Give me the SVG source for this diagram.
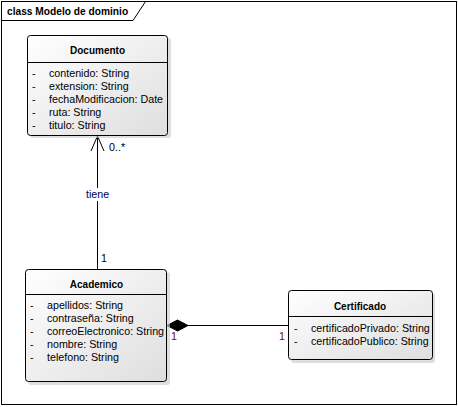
<svg xmlns="http://www.w3.org/2000/svg" width="458" height="407" viewBox="0 0 458 407">
<defs>
<linearGradient id="g" x1="0" y1="0" x2="1" y2="1">
<stop offset="0" stop-color="#ffffff"/>
<stop offset="1" stop-color="#dedede"/>
</linearGradient>
</defs>
<style>
text{font-family:"Liberation Sans",Arial,sans-serif;font-size:10.7px;fill:#000}
.t{font-weight:bold;font-size:10px;text-anchor:middle}
.box{fill:url(#g);stroke:#000;stroke-width:1}
.sh{fill:#c8c8c8;opacity:0.6}
.ln{stroke:#000;stroke-width:1;fill:none}
.red{fill:#800000}
</style>
<rect x="0" y="0" width="458" height="407" fill="#fff"/>
<g id="frame">
<rect x="1.5" y="1.5" width="455" height="403" fill="none" stroke="#000"/>
<path d="M1.5 20.5 H133 L145.5 1.5" class="ln"/>
<text x="7" y="14.5" style="font-weight:bold;font-size:10.2px">class Modelo de dominio</text>
</g>
<g id="connectors">
<line x1="97.5" y1="136" x2="97.5" y2="269" class="ln"/>
<path d="M91 151 L97.5 136 L104 151" class="ln"/>
<rect x="83" y="188" width="29" height="13" fill="#fff"/>
<text x="97.5" y="198" text-anchor="middle" style="fill:#000050">tiene</text>
<text x="109" y="151">0..*</text>
<text x="101" y="262">1</text>
<line x1="188" y1="325.5" x2="288" y2="325.5" class="ln"/>
<path d="M167 325.5 L177.5 320 L188 325.5 L177.5 331 Z" fill="#000" stroke="#000"/>
<text x="171" y="340" class="red">1</text>
<text x="279" y="340" class="red">1</text>
</g>
<g id="Documento">
<rect x="30" y="38" width="141" height="100" rx="3" class="sh"/>
<rect x="27.5" y="35.5" width="140" height="100" rx="3" class="box"/>
<line x1="27.5" y1="62.5" x2="167.5" y2="62.5" class="ln"/>
<text x="97.5" y="54" class="t">Documento</text>
<text x="32" y="76.5">-</text><text x="49" y="76.5">contenido: String</text>
<text x="32" y="89.5">-</text><text x="49" y="89.5">extension: String</text>
<text x="32" y="102.5">-</text><text x="49" y="102.5">fechaModificacion: Date</text>
<text x="32" y="115.5">-</text><text x="49" y="115.5">ruta: String</text>
<text x="32" y="128.5">-</text><text x="49" y="128.5">titulo: String</text>
</g>
<g id="Academico">
<rect x="28" y="272" width="142" height="113" rx="3" class="sh"/>
<rect x="25.5" y="269.5" width="141" height="112" rx="3" class="box"/>
<line x1="25.5" y1="294.5" x2="166.5" y2="294.5" class="ln"/>
<text x="96.5" y="288" class="t">Academico</text>
<text x="30" y="309">-</text><text x="47" y="309">apellidos: String</text>
<text x="30" y="322">-</text><text x="47" y="322">contraseña: String</text>
<text x="30" y="335">-</text><text x="47" y="335">correoElectronico: String</text>
<text x="30" y="348">-</text><text x="47" y="348">nombre: String</text>
<text x="30" y="361">-</text><text x="47" y="361">telefono: String</text>
</g>
<g id="Certificado">
<rect x="291" y="293" width="144" height="70" rx="3" class="sh"/>
<rect x="288.5" y="290.5" width="144" height="69" rx="3" class="box"/>
<line x1="288.5" y1="316.5" x2="432.5" y2="316.5" class="ln"/>
<text x="360" y="310" class="t">Certificado</text>
<text x="294" y="332">-</text><text x="311" y="332">certificadoPrivado: String</text>
<text x="294" y="345">-</text><text x="311" y="345">certificadoPublico: String</text>
</g>
</svg>
